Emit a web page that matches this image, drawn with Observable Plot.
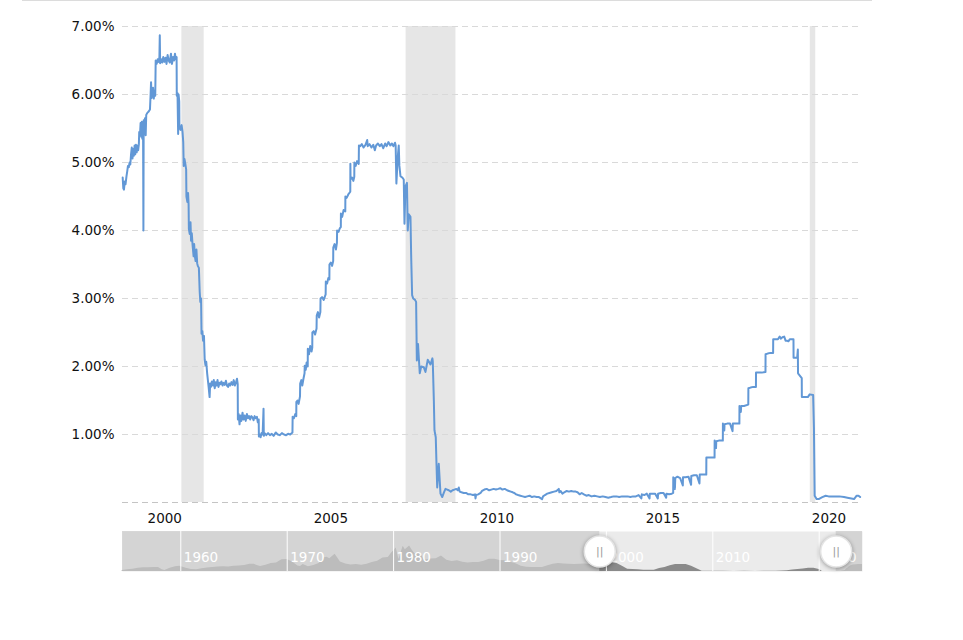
<!DOCTYPE html>
<html><head><meta charset="utf-8">
<script src="https://cdn.jsdelivr.net/npm/d3@7"></script>
<script src="https://cdn.jsdelivr.net/npm/@observablehq/plot@0.6"></script>
<style>
body{margin:0;background:#fff;}
#wrap{position:relative;width:963px;height:640px;overflow:hidden;}
#topline{position:absolute;left:22px;top:0;width:850px;height:1px;background:#dcdcdc;}
#main{position:absolute;left:0;top:0;}
#nav{position:absolute;left:0;top:531px;}
</style></head><body>
<div id="wrap"><div id="main"></div><div id="nav"></div><div id="topline"></div></div>
<script>
// Effective federal funds rate (%), daily series
const fedFunds = [
["1999-05-20",4.78],["1999-05-27",4.62],["1999-06-03",4.60],["1999-06-12",4.72],["1999-06-20",4.68],["1999-07-01",4.80],["1999-07-09",4.87],["1999-07-17",4.95],["1999-07-26",4.93],["1999-08-04",5.00],["1999-08-12",4.97],["1999-08-20",5.12],["1999-08-28",5.22],["1999-09-05",5.06],["1999-09-12",5.20],["1999-09-20",5.10],["1999-09-28",5.25],["1999-10-05",5.12],["1999-10-13",5.26],["1999-10-21",5.15],["1999-10-29",5.25],["1999-11-06",5.18],["1999-11-14",5.27],["1999-11-18",5.45],["1999-11-26",5.40],["1999-12-03",5.58],["1999-12-10",5.38],["1999-12-16",5.60],["1999-12-22",5.35],["1999-12-30",5.55],["2000-01-03",4.00],["2000-01-06",5.62],["2000-01-12",5.45],["2000-01-20",5.65],["2000-01-28",5.40],["2000-02-03",5.70],["2000-02-15",5.73],["2000-03-01",5.75],["2000-03-15",5.78],["2000-03-22",6.00],["2000-03-27",6.18],["2000-04-02",5.95],["2000-04-10",6.05],["2000-04-18",6.10],["2000-04-26",5.94],["2000-05-04",6.06],["2000-05-12",5.98],["2000-05-17",6.50],
["2000-05-28",6.45],["2000-06-08",6.52],["2000-06-18",6.48],["2000-06-27",6.55],["2000-07-01",6.87],["2000-07-05",6.46],["2000-07-16",6.52],["2000-07-28",6.47],["2000-08-08",6.55],["2000-08-20",6.48],["2000-09-01",6.54],["2000-09-13",6.45],["2000-09-25",6.58],["2000-10-07",6.50],["2000-10-19",6.47],["2000-11-01",6.60],["2000-11-12",6.45],["2000-11-24",6.55],["2000-12-05",6.50],["2000-12-15",6.60],["2000-12-24",6.52],["2001-01-02",6.55],
["2001-01-04",5.98],["2001-01-12",6.02],["2001-01-19",5.42],["2001-01-24",6.00],["2001-01-31",5.90],["2001-02-02",5.52],["2001-02-14",5.48],["2001-02-26",5.55],["2001-03-08",5.45],["2001-03-16",5.30],["2001-03-21",4.95],["2001-03-30",5.05],["2001-04-08",4.98],["2001-04-17",4.90],["2001-04-20",4.50],["2001-04-30",4.42],["2001-05-08",4.55],["2001-05-14",4.38],["2001-05-17",4.02],["2001-05-26",3.95],["2001-06-04",4.12],["2001-06-10",3.85],["2001-06-18",3.96],["2001-06-26",3.80],["2001-06-29",3.75],["2001-07-08",3.62],["2001-07-14",3.80],["2001-07-22",3.62],["2001-07-30",3.55],["2001-08-08",3.72],["2001-08-16",3.52],["2001-08-23",3.48],["2001-09-04",3.45],["2001-09-13",3.10],["2001-09-20",2.95],["2001-09-28",3.00],["2001-10-03",2.48],["2001-10-12",2.52],["2001-10-20",2.38],["2001-10-30",2.45],["2001-11-07",2.10],["2001-11-15",2.02],["2001-11-24",2.07],["2001-12-04",1.90],["2001-12-12",1.80],["2001-12-20",1.70],["2001-12-31",1.55],
["2002-01-06",1.75],["2002-01-15",1.70],["2002-01-25",1.78],["2002-02-05",1.72],["2002-02-15",1.80],["2002-02-25",1.68],["2002-03-08",1.77],["2002-03-18",1.72],["2002-03-28",1.80],["2002-04-08",1.70],["2002-04-18",1.76],["2002-04-28",1.74],["2002-05-10",1.78],["2002-05-22",1.72],["2002-06-02",1.76],["2002-06-15",1.73],["2002-06-28",1.79],["2002-07-10",1.72],["2002-07-22",1.70],["2002-08-03",1.75],["2002-08-15",1.72],["2002-08-28",1.77],["2002-09-10",1.73],["2002-09-22",1.80],["2002-10-04",1.72],["2002-10-16",1.76],["2002-10-28",1.82],["2002-11-05",1.74],
["2002-11-07",1.22],["2002-11-15",1.30],["2002-11-25",1.15],["2002-12-05",1.28],["2002-12-15",1.20],["2002-12-28",1.32],["2003-01-08",1.22],["2003-01-20",1.28],["2003-02-01",1.20],["2003-02-14",1.30],["2003-02-26",1.24],["2003-03-10",1.27],["2003-03-22",1.22],["2003-04-04",1.27],["2003-04-16",1.25],["2003-04-28",1.21],["2003-05-10",1.27],["2003-05-22",1.24],["2003-06-04",1.26],["2003-06-14",1.18],["2003-06-24",1.22],
["2003-06-26",0.97],["2003-07-05",1.00],["2003-07-15",0.96],["2003-07-25",1.02],["2003-08-06",1.00],["2003-08-16",1.38],["2003-08-19",0.98],["2003-08-28",1.02],["2003-09-15",0.99],["2003-10-05",1.02],["2003-10-25",0.99],["2003-11-15",1.01],["2003-12-05",0.98],["2003-12-28",1.03],["2004-01-20",1.00],["2004-02-10",0.99],["2004-03-05",1.02],["2004-03-28",1.00],["2004-04-20",0.99],["2004-05-12",1.01],["2004-06-05",1.00],["2004-06-29",1.03],
["2004-07-01",1.26],["2004-07-15",1.24],["2004-07-30",1.30],["2004-08-10",1.27],["2004-08-11",1.48],["2004-08-25",1.50],["2004-09-05",1.45],["2004-09-20",1.56],["2004-09-22",1.75],["2004-10-05",1.80],["2004-10-15",1.72],["2004-10-28",1.82],["2004-11-09",1.90],["2004-11-11",2.01],["2004-11-22",1.95],["2004-12-02",2.06],["2004-12-14",2.00],["2004-12-15",2.26],["2004-12-28",2.18],["2005-01-10",2.30],["2005-01-25",2.22],["2005-02-02",2.28],["2005-02-03",2.50],["2005-02-18",2.52],["2005-03-05",2.47],["2005-03-21",2.56],["2005-03-23",2.75],["2005-04-05",2.80],["2005-04-18",2.72],["2005-05-02",2.80],["2005-05-04",3.00],["2005-05-20",3.02],["2005-06-08",2.98],["2005-06-29",3.06],["2005-07-01",3.25],["2005-07-15",3.22],["2005-07-28",3.30],["2005-08-09",3.28],["2005-08-10",3.50],["2005-08-25",3.53],["2005-09-08",3.48],["2005-09-20",3.55],["2005-09-21",3.75],["2005-10-05",3.80],["2005-10-20",3.72],["2005-10-31",3.82],["2005-11-02",4.00],["2005-11-18",3.98],["2005-12-01",4.03],["2005-12-13",4.05],["2005-12-14",4.25],["2005-12-28",4.20],["2006-01-12",4.30],["2006-01-31",4.28],["2006-02-01",4.50],["2006-02-15",4.48],["2006-03-05",4.53],["2006-03-27",4.57],["2006-03-28",4.98],["2006-03-30",4.75],["2006-04-15",4.78],["2006-04-30",4.73],["2006-05-10",4.79],["2006-05-11",5.00],["2006-05-25",4.95],["2006-06-10",5.02],["2006-06-28",4.98],
["2006-06-30",5.25],["2006-07-15",5.24],["2006-08-01",5.27],["2006-08-20",5.22],["2006-09-10",5.26],["2006-09-29",5.33],["2006-10-05",5.24],["2006-10-25",5.27],["2006-11-15",5.22],["2006-12-05",5.26],["2006-12-22",5.18],["2007-01-05",5.25],["2007-01-25",5.28],["2007-02-15",5.24],["2007-03-05",5.27],["2007-03-25",5.21],["2007-04-15",5.28],["2007-05-01",5.24],["2007-05-20",5.30],["2007-06-10",5.25],["2007-06-28",5.28],["2007-07-15",5.24],["2007-08-01",5.29],["2007-08-08",5.25],
["2007-08-16",4.69],["2007-08-31",5.08],["2007-09-11",5.25],["2007-09-18",4.95],["2007-09-30",4.80],["2007-10-19",4.78],["2007-11-05",4.75],["2007-11-13",4.10],["2007-11-24",4.65],["2007-12-10",4.70],["2007-12-19",4.00],["2007-12-30",4.24],["2008-01-18",4.20],["2008-01-26",3.60],["2008-02-05",3.05],["2008-02-17",3.00],["2008-03-08",2.98],["2008-03-20",2.95],["2008-03-28",2.09],["2008-04-10",2.33],["2008-04-20",2.10],["2008-04-29",1.90],["2008-05-15",2.00],["2008-06-12",1.99],["2008-07-01",1.92],["2008-07-26",2.10],["2008-08-25",2.03],["2008-09-15",2.12],["2008-09-19",2.08],["2008-10-01",1.50],["2008-10-08",1.06],["2008-10-22",0.96],["2008-10-30",0.57],["2008-11-07",0.22],["2008-11-24",0.57],["2008-12-13",0.13],["2009-01-01",0.08],
["2009-01-20",0.15],["2009-02-06",0.20],["2009-02-25",0.19],["2009-03-14",0.18],["2009-04-05",0.16],["2009-04-25",0.18],["2009-05-15",0.19],["2009-06-05",0.20],["2009-06-20",0.18],["2009-07-02",0.22],["2009-07-12",0.16],["2009-08-01",0.15],["2009-08-25",0.14],["2009-09-20",0.14],["2009-10-15",0.12],["2009-11-10",0.12],["2009-12-05",0.11],["2009-12-28",0.12],["2010-01-02",0.06],["2010-01-08",0.11],["2010-02-01",0.12],["2010-02-27",0.14],["2010-03-15",0.17],["2010-04-10",0.19],["2010-05-05",0.20],["2010-06-01",0.18],["2010-06-25",0.19],["2010-07-20",0.20],["2010-08-15",0.19],["2010-09-10",0.20],["2010-10-01",0.21],["2010-10-25",0.19],["2010-11-20",0.20],["2010-12-15",0.18],
["2011-01-05",0.17],["2011-01-25",0.16],["2011-02-15",0.15],["2011-03-05",0.14],["2011-03-25",0.12],["2011-04-15",0.11],["2011-05-10",0.10],["2011-06-05",0.09],["2011-07-01",0.08],["2011-07-25",0.09],["2011-08-20",0.10],["2011-09-15",0.08],["2011-10-10",0.09],["2011-11-05",0.08],["2011-12-01",0.08],["2012-01-04",0.05],["2012-01-15",0.09],["2012-02-05",0.11],["2012-03-01",0.13],["2012-03-25",0.14],["2012-04-20",0.15],["2012-05-15",0.16],["2012-06-10",0.17],["2012-07-06",0.20],["2012-07-12",0.15],["2012-07-25",0.17],["2012-08-15",0.13],["2012-09-05",0.15],["2012-10-01",0.17],["2012-10-25",0.16],["2012-11-20",0.17],["2012-12-15",0.16],
["2013-01-08",0.16],["2013-01-28",0.15],["2013-02-20",0.12],["2013-03-15",0.14],["2013-04-08",0.12],["2013-05-05",0.10],["2013-06-01",0.11],["2013-07-01",0.09],["2013-08-01",0.10],["2013-09-01",0.09],["2013-10-01",0.08],["2013-11-01",0.09],["2013-12-01",0.08],["2014-01-01",0.07],["2014-02-01",0.08],["2014-03-01",0.09],["2014-04-01",0.09],["2014-05-01",0.08],["2014-06-01",0.09],["2014-07-01",0.09],["2014-08-01",0.09],["2014-09-01",0.08],["2014-10-01",0.09],["2014-11-01",0.09],["2014-12-01",0.11],["2014-12-31",0.06],["2015-01-05",0.12],["2015-02-01",0.11],["2015-03-01",0.13],["2015-03-31",0.06],["2015-04-03",0.13],["2015-05-01",0.13],["2015-06-01",0.13],["2015-06-30",0.06],["2015-07-03",0.13],["2015-08-01",0.14],["2015-09-01",0.14],["2015-09-30",0.07],["2015-10-03",0.13],["2015-11-01",0.12],["2015-12-01",0.13],["2015-12-16",0.14],
["2015-12-17",0.37],["2015-12-31",0.35],["2016-01-04",0.20],["2016-01-08",0.36],["2016-02-01",0.38],["2016-03-01",0.36],["2016-03-31",0.25],["2016-04-02",0.37],["2016-05-01",0.37],["2016-06-01",0.38],["2016-06-30",0.26],["2016-07-02",0.39],["2016-08-01",0.40],["2016-09-01",0.40],["2016-09-30",0.28],["2016-10-03",0.41],["2016-11-01",0.41],["2016-12-14",0.41],["2016-12-15",0.66],["2017-01-15",0.66],["2017-02-15",0.66],["2017-03-15",0.66],["2017-03-16",0.91],["2017-03-31",0.80],["2017-04-03",0.90],["2017-05-01",0.91],["2017-06-14",0.91],["2017-06-15",1.16],["2017-06-30",1.06],["2017-07-03",1.15],["2017-08-01",1.16],["2017-09-01",1.16],["2017-09-29",1.05],["2017-10-02",1.16],["2017-11-01",1.16],["2017-12-13",1.16],["2017-12-14",1.42],["2017-12-29",1.33],["2018-01-02",1.42],["2018-02-01",1.42],["2018-03-21",1.44],["2018-03-22",1.68],["2018-04-15",1.69],["2018-05-15",1.70],["2018-06-13",1.70],["2018-06-14",1.91],["2018-07-15",1.91],["2018-08-15",1.91],["2018-09-26",1.92],["2018-09-27",2.18],["2018-10-20",2.19],["2018-11-20",2.20],["2018-12-19",2.20],
["2018-12-20",2.40],["2019-01-15",2.40],["2019-02-10",2.40],["2019-03-01",2.44],["2019-03-15",2.41],["2019-04-01",2.43],["2019-04-20",2.44],["2019-05-05",2.38],["2019-05-20",2.38],["2019-06-05",2.37],["2019-06-20",2.40],["2019-07-05",2.40],["2019-07-31",2.40],["2019-08-01",2.13],["2019-09-10",2.13],["2019-09-17",2.25],["2019-09-19",1.90],["2019-10-30",1.83],["2019-10-31",1.55],["2019-12-15",1.55],["2020-01-05",1.55],["2020-01-25",1.59],["2020-03-03",1.58],["2020-03-12",1.10],["2020-03-20",0.10],["2020-04-10",0.05],["2020-05-03",0.05],["2020-06-12",0.08],["2020-07-19",0.10],["2020-08-20",0.09],["2020-10-19",0.09],["2020-12-15",0.09],["2021-02-06",0.08],["2021-03-15",0.07],["2021-05-27",0.05],["2021-06-25",0.10],["2021-07-15",0.10],["2021-08-02",0.08]
];

// Recession shading
const recStart = ["2001-03-01", "2007-12-01", "2020-02-01"];
const recEnd   = ["2001-11-01", "2009-06-01", "2020-04-01"];

// Visible window (navigator selection)
const viewRange = ["1999-05-18", "2021-08-06"];

// Axis ticks
const yTicks = [1, 2, 3, 4, 5, 6, 7];
const yGrid = [1, 2, 3, 4, 5, 6, 7];
const xTickYears = [2000, 2005, 2010, 2015, 2020];

// Navigator: full history (decimal year, rate %)
const navYears = [1954.5,1955.0,1955.5,1956.0,1956.5,1957.0,1957.5,1957.9,1958.25,1958.5,1959.0,1959.5,1959.9,1960.5,1961.0,1961.5,1962.0,1962.5,1963.0,1963.5,1964.0,1964.5,1965.0,1965.5,1966.0,1966.5,1966.9,1967.25,1967.5,1968.0,1968.5,1969.0,1969.5,1970.0,1970.5,1971.0,1971.25,1971.5,1972.0,1972.5,1973.0,1973.5,1973.75,1974.0,1974.5,1974.75,1975.0,1975.5,1976.0,1976.5,1977.0,1977.5,1978.0,1978.5,1979.0,1979.5,1979.8,1980.25,1980.5,1980.9,1981.1,1981.5,1981.75,1982.0,1982.5,1982.8,1983.0,1983.5,1984.0,1984.5,1985.0,1985.5,1986.0,1986.5,1987.0,1987.5,1988.0,1988.5,1989.0,1989.5,1990.0,1990.5,1991.0,1991.5,1992.0,1992.5,1993.0,1994.0,1994.5,1995.0,1995.5,1996.0,1997.0,1998.0,1998.9,1999.5,2000.0,2000.5,2001.0,2001.5,2002.0,2003.0,2003.5,2004.5,2005.0,2005.5,2006.0,2006.5,2007.5,2008.0,2008.5,2009.0,2010.0,2011.0,2012.0,2013.0,2014.0,2015.0,2015.95,2016.5,2017.0,2017.5,2018.0,2018.5,2019.0,2019.5,2020.0,2020.2,2020.3,2021.0,2022.0,2022.25,2022.45,2022.55,2022.7,2022.85,2023.0,2023.2,2023.5,2023.7,2024.07];
const navRates = [0.80,1.39,1.68,2.45,2.75,2.84,3.00,2.98,1.26,0.68,2.48,3.47,3.99,2.50,1.45,1.33,2.15,2.71,2.92,3.35,3.48,3.42,3.90,4.08,4.42,5.40,5.40,4.26,3.79,4.61,6.07,6.30,8.90,8.98,7.21,4.14,3.71,5.31,3.50,4.46,5.94,10.40,10.78,9.65,12.92,10.06,7.13,5.55,4.87,5.29,4.61,5.42,6.70,7.60,10.07,10.47,13.78,17.61,9.03,18.90,16.38,19.10,15.87,13.22,14.15,9.71,8.68,9.37,9.56,11.64,8.35,7.53,8.14,6.85,6.43,6.73,6.83,7.75,9.12,9.20,8.23,8.15,6.91,5.86,4.03,3.25,3.02,3.05,4.26,5.53,6.00,5.56,5.25,5.56,4.83,5.00,5.45,6.54,5.98,3.97,1.73,1.24,1.01,1.03,2.28,3.04,4.29,5.24,5.26,3.94,2.00,0.16,0.12,0.17,0.08,0.14,0.07,0.11,0.24,0.39,0.65,1.15,1.41,1.91,2.40,2.38,1.55,0.65,0.05,0.09,0.08,0.33,0.77,1.68,2.56,3.78,4.33,4.83,5.12,5.33,5.33];
const navDomainYears = [1954.52, 2024.07];
const navDecades = [1960, 1970, 1980, 1990, 2000, 2010, 2020];

const parse = s => new Date(s + "T00:00:00Z");
const yearToDate = y => { const f = Math.floor(y); const a = Date.UTC(f,0,1), b = Date.UTC(f+1,0,1); return new Date(a + (y - f) * (b - a)); };

const data = fedFunds.map(([d, v]) => ({date: parse(d), rate: v}));
const recessions = recStart.map((s, i) => ({start: parse(s), end: parse(recEnd[i])}));
const viewStart = parse(viewRange[0]), viewEnd = parse(viewRange[1]);
const xTicks = xTickYears.map(y => new Date(Date.UTC(y, 0, 1)));

const font = "'DejaVu Sans', Verdana, sans-serif";

const main = Plot.plot({
  width: 963, height: 530,
  marginLeft: 122, marginRight: 103, marginTop: 26, marginBottom: 28,
  style: {fontFamily: font, fontSize: "13.5px", color: "#111", background: "transparent", overflow: "visible"},
  x: {type: "utc", domain: [viewStart, viewEnd], label: null},
  y: {domain: [0, 7], label: null},
  marks: [
    Plot.rect(recessions, {x1: "start", x2: "end", fill: "#e6e6e6"}),
    Plot.ruleY([0], {stroke: "#c4c4c4", strokeDasharray: "6,4"}),
    Plot.ruleY(yGrid, {stroke: "#d9d9d9", strokeDasharray: "6,4"}),
    Plot.axisY(yTicks, {tickSize: 0, tickPadding: 8, tickFormat: d => d.toFixed(2) + "%", label: null}),
    Plot.axisX(xTicks, {tickSize: 0, tickPadding: 11, dx: 21.5, tickFormat: d => String(d.getUTCFullYear()), label: null}),
    Plot.line(data, {x: "date", y: "rate", stroke: "#6298d6", strokeWidth: 2})
  ]
});
document.getElementById("main").appendChild(main);

const navData = navYears.map((y, i) => ({date: yearToDate(y), rate: navRates[i]}));
const navStart = yearToDate(navDomainYears[0]), navEnd = yearToDate(navDomainYears[1]);

const nav = Plot.plot({
  width: 963, height: 40,
  marginLeft: 122, marginRight: 101, marginTop: 0, marginBottom: 0,
  style: {fontFamily: font, fontSize: "13.5px", background: "transparent", overflow: "visible"},
  x: {type: "utc", domain: [navStart, navEnd], axis: null},
  y: {domain: [0, 30], axis: null},
  marks: [
    Plot.frame({fill: "#ebebeb", stroke: null}),
    Plot.areaY(navData, {x: "date", y: "rate", fill: "#8a8a8a"}),
    Plot.rect([{a: navStart, b: viewStart}, {a: viewEnd, b: navEnd}], {x1: "a", x2: "b", fill: "#cccccc", fillOpacity: 0.75}),
    Plot.ruleX(navDecades.map(d => yearToDate(d)), {stroke: "white", strokeWidth: 1}),
    Plot.text(navDecades, {x: d => yearToDate(d), text: d => String(d), frameAnchor: "bottom", textAnchor: "start", dx: 3, dy: -10, fill: "white", fontSize: 13.5}),
    Plot.dot([viewStart, viewEnd], {x: d => d, frameAnchor: "middle", r: 15.5, fill: "white", stroke: "#e4e4e4"}),
    Plot.text([viewStart, viewEnd], {x: d => d, frameAnchor: "middle", text: () => "||", fill: "#9a9a9a", fontSize: 11})
  ]
});
nav.querySelectorAll("circle").forEach(c => c.style.filter = "drop-shadow(0px 1px 2px rgba(0,0,0,0.35))");
document.getElementById("nav").appendChild(nav);
</script></body></html>
